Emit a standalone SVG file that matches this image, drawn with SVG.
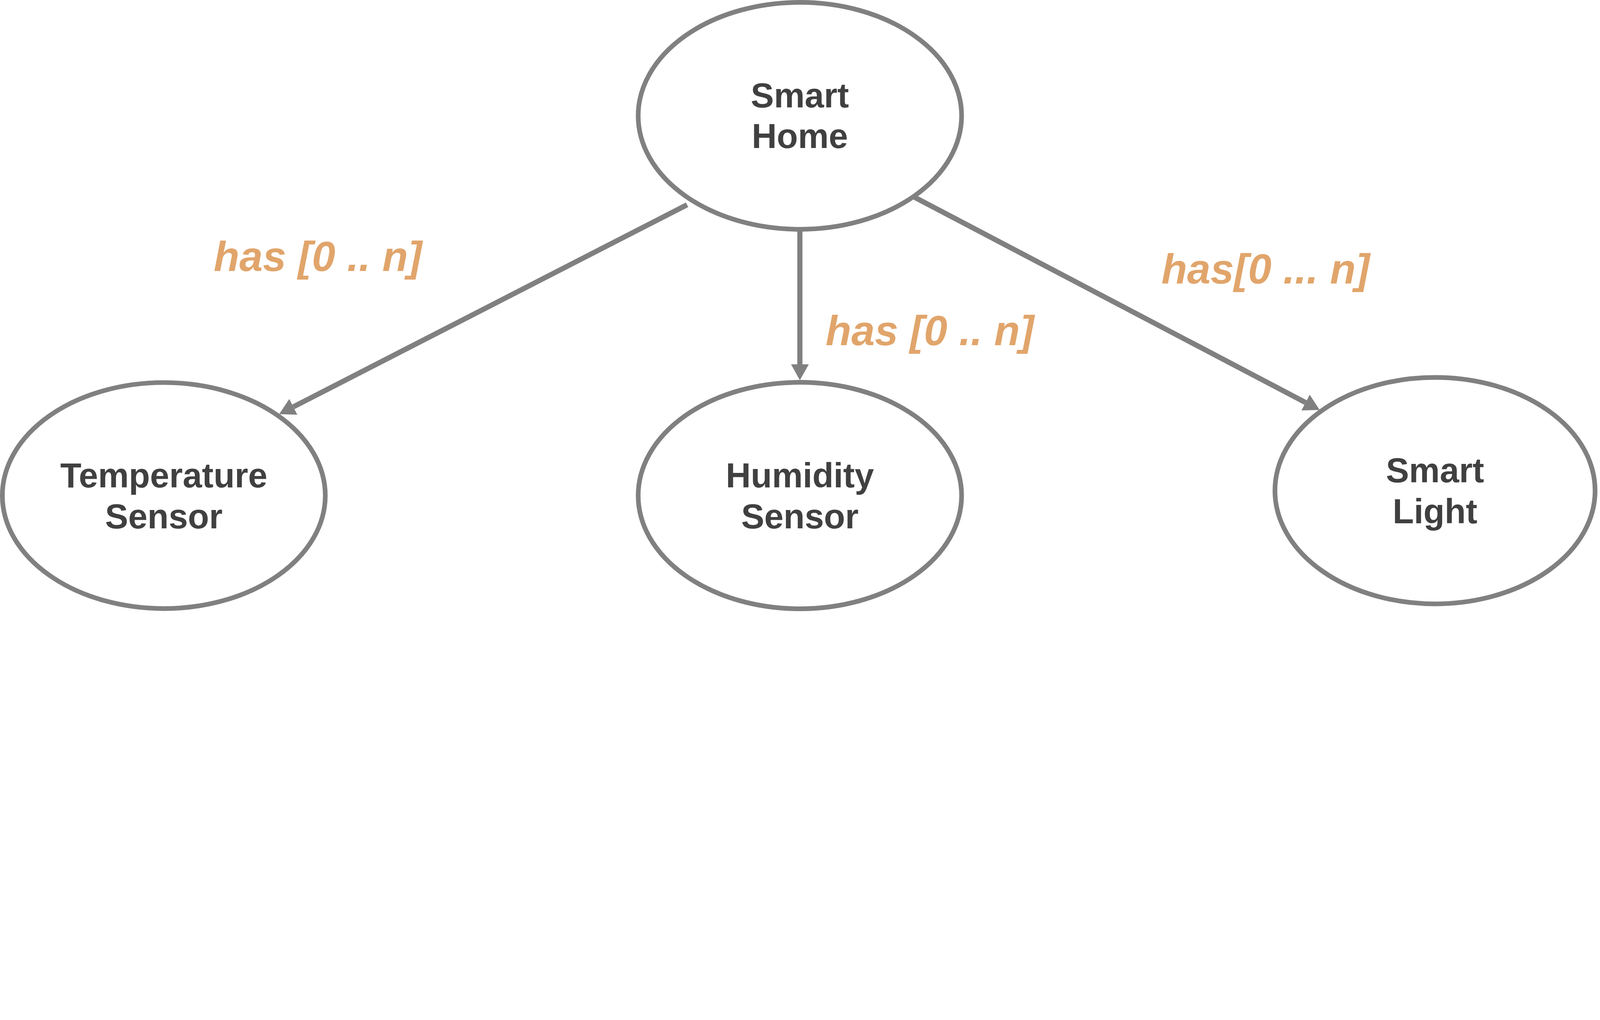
<svg xmlns="http://www.w3.org/2000/svg" width="6837" height="2612" viewBox="0 0 6837 2612">
<style>
svg{width:100vw;height:auto}
.node ellipse{fill:#ffffff;stroke:#808080;stroke-width:20}
.node text{font-family:"Liberation Sans",Arial,sans-serif;font-weight:bold;font-size:148px;fill:#404040;text-anchor:middle}
.edge{stroke:#808080;stroke-width:22;fill:none}
.lbl{font-family:"Liberation Sans",Arial,sans-serif;font-weight:bold;font-style:italic;font-size:180px;fill:#E1A56B;text-anchor:middle}
</style>
<defs>
<marker id="arr" viewBox="0 0 68 76" refX="0" refY="38" markerWidth="68" markerHeight="76" markerUnits="userSpaceOnUse" orient="auto">
<path d="M0,0 L68,38 L0,76 Z" fill="#808080"/>
</marker>
</defs>
<rect width="6837" height="2612" fill="#ffffff"/>
<g id="connectors">
<line class="edge" x1="2936" y1="875" x2="1253.5" y2="1738.9" marker-end="url(#arr)"/>
<line class="edge" x1="3418" y1="988" x2="3418" y2="1557" marker-end="url(#arr)"/>
<line class="edge" x1="3908" y1="843" x2="5578.8" y2="1720.4" marker-end="url(#arr)"/>
<text class="lbl" x="1358" y="1158">has [0 .. n]</text>
<text class="lbl" x="3973" y="1475">has [0 .. n]</text>
<text class="lbl" x="5408" y="1212">has[0 ... n]</text>
</g>
<g id="smart-home" class="node">
<ellipse cx="3418" cy="495" rx="691" ry="485"/>
<text x="3418" y="459">Smart</text>
<text x="3418" y="633">Home</text>
</g>
<g id="temperature-sensor" class="node">
<ellipse cx="700" cy="2118" rx="690" ry="483"/>
<text x="700" y="2083">Temperature</text>
<text x="700" y="2258">Sensor</text>
</g>
<g id="humidity-sensor" class="node">
<ellipse cx="3418" cy="2118" rx="691" ry="484"/>
<text x="3418" y="2083">Humidity</text>
<text x="3418" y="2258">Sensor</text>
</g>
<g id="smart-light" class="node">
<ellipse cx="6132" cy="2097" rx="684" ry="484"/>
<text x="6132" y="2061">Smart</text>
<text x="6132" y="2236">Light</text>
</g>
</svg>
